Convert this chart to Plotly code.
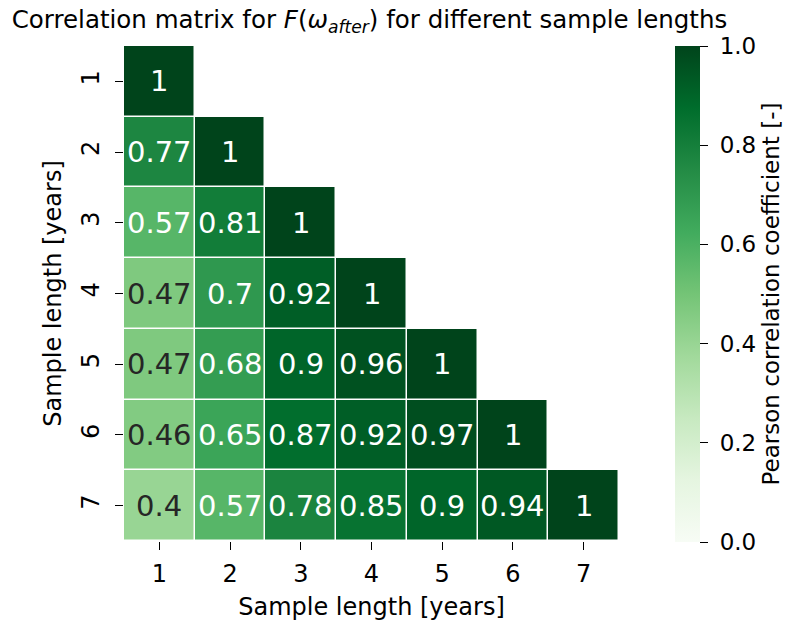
import plotly.graph_objects as go

sample_lengths = [1, 2, 3, 4, 5, 6, 7]
tick_labels = ["1", "2", "3", "4", "5", "6", "7"]
corr_rows = [
    [1.0],
    [0.77, 1.0],
    [0.57, 0.81, 1.0],
    [0.47, 0.70, 0.92, 1.0],
    [0.47, 0.68, 0.90, 0.96, 1.0],
    [0.46, 0.65, 0.87, 0.92, 0.97, 1.0],
    [0.40, 0.57, 0.78, 0.85, 0.90, 0.94, 1.0],
]
cbar_ticks = [0, 0.2, 0.4, 0.6, 0.8, 1.0]
cbar_labels = ["0.0", "0.2", "0.4", "0.6", "0.8", "1.0"]

n = len(sample_lengths)
z = [row + [None] * (n - len(row)) for row in corr_rows]

greens = ["#f7fcf5", "#e5f5e0", "#c7e9c0", "#a1d99b", "#74c476",
          "#41ab5d", "#238b45", "#006d2c", "#00441b"]
colorscale = [[i / (len(greens) - 1), c] for i, c in enumerate(greens)]

FONT = "DejaVu Sans"
FS = 24

W, H = 783, 613
L, T, PW, PH = 116, 38, 495, 495

fig = go.Figure()
fig.add_trace(go.Heatmap(
    x=sample_lengths, y=sample_lengths, z=z,
    zmin=0, zmax=1, colorscale=colorscale,
    xgap=1.5, ygap=1.5, hoverongaps=False,
    colorbar=dict(
        thickness=25, lenmode="pixels", len=496,
        x=(667 - L) / PW, xanchor="left", y=1, yanchor="top",
        xpad=0, ypad=0,
        outlinewidth=0, ticks="outside", ticklen=8, tickwidth=1.3,
        tickcolor="black",
        tickvals=cbar_ticks, ticktext=["\u2004" + s for s in cbar_labels],
        tickfont=dict(family=FONT, size=FS - 1, color="black"),
        title=dict(text="Pearson correlation coefficient [-]", side="right",
                   font=dict(family=FONT, size=FS - 1, color="black")),
    ),
))

annotations = []
for i, row in enumerate(corr_rows):
    for j, v in enumerate(row):
        annotations.append(dict(
            x=sample_lengths[j], y=sample_lengths[i], xref="x", yref="y",
            text=format(v, ".2g"), showarrow=False,
            font=dict(family=FONT, size=29,
                      color="#262626" if v < 0.5 else "white"),
        ))

fig.update_layout(
    width=W, height=H,
    margin=dict(l=L, r=W - L - PW, t=T, b=H - T - PH, autoexpand=False),
    plot_bgcolor="white", paper_bgcolor="white",
    font=dict(family=FONT, size=FS, color="black"),
    title=dict(
        text="Correlation matrix for <i>F</i>(<i>ω</i><sub><i>after</i></sub>) for different sample lengths",
        x=(L + PW / 2 - 2) / W, xanchor="center", y=1 - 11 / H, yanchor="middle",
        font=dict(family=FONT, size=24.5, color="black"),
    ),
    annotations=annotations,
)
fig.update_xaxes(
    range=[0.5, 7.5], tickvals=sample_lengths, ticktext=tick_labels,
    ticks="outside", ticklen=8, tickwidth=1.3, tickcolor="black",
    showgrid=False, zeroline=False, showline=False, ticklabelstandoff=3,
    title=dict(text="Sample length [years]", font=dict(family=FONT, size=FS), standoff=11),
    tickfont=dict(family=FONT, size=FS),
)
fig.update_yaxes(
    range=[7.5, 0.5], tickvals=sample_lengths, ticktext=tick_labels,
    ticks="outside", ticklen=8, tickwidth=1.3, tickcolor="black",
    showgrid=False, zeroline=False, showline=False, tickangle=-90,
    ticklabelstandoff=6,
    title=dict(text="Sample length [years]", font=dict(family=FONT, size=FS), standoff=9),
    tickfont=dict(family=FONT, size=FS),
)

fig.write_html("out.html")
